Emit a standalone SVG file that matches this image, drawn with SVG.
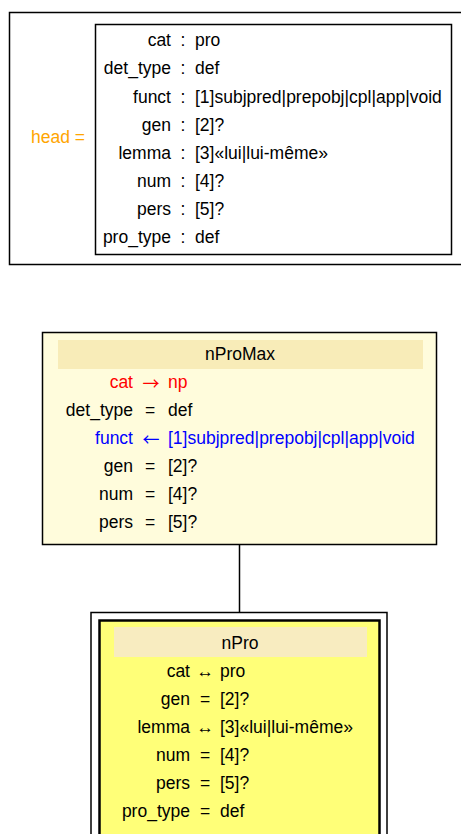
<svg xmlns="http://www.w3.org/2000/svg" width="461" height="834" viewBox="0 0 461 834">
<style>
text{font-family:"Liberation Sans",Arial,sans-serif;font-size:17.5px;fill:#000;dominant-baseline:central}
.r{text-anchor:end}
.m{text-anchor:middle}
.arr{font-family:"Noto Sans CJK SC","DejaVu Sans",sans-serif;font-size:17px}
.red{fill:#ff0000}
.blue{fill:#0000ff}
.orange{fill:#ffa500}
</style>
<rect width="461" height="834" fill="#fff"/>
<g id="head">
<rect x="9.5" y="12.5" width="460" height="252" fill="#fff" stroke="#000" stroke-width="1.5"/>
<text class="orange" x="31" y="137">head =</text>
<rect x="95.5" y="24.5" width="356" height="230" fill="#fff" stroke="#000" stroke-width="1.5"/>
<g>
<text class="r" x="171" y="40">cat</text><text class="m" x="183" y="40">:</text><text x="195" y="40">pro</text>
<text class="r" x="171" y="68">det_type</text><text class="m" x="183" y="68">:</text><text x="195" y="68">def</text>
<text class="r" x="171" y="97">funct</text><text class="m" x="183" y="97">:</text><text x="195" y="97">[1]subjpred|prepobj|cpl|app|void</text>
<text class="r" x="171" y="125">gen</text><text class="m" x="183" y="125">:</text><text x="195" y="125">[2]?</text>
<text class="r" x="171" y="153">lemma</text><text class="m" x="183" y="153">:</text><text x="195" y="153">[3]«lui|lui-même»</text>
<text class="r" x="171" y="181">num</text><text class="m" x="183" y="181">:</text><text x="195" y="181">[4]?</text>
<text class="r" x="171" y="209">pers</text><text class="m" x="183" y="209">:</text><text x="195" y="209">[5]?</text>
<text class="r" x="171" y="237">pro_type</text><text class="m" x="183" y="237">:</text><text x="195" y="237">def</text>
</g>
</g>
<g id="connectors">
<line x1="239.5" y1="545" x2="239.5" y2="612" stroke="#000" stroke-width="1.5"/>
</g>
<g id="nProMax">
<rect x="42.5" y="332.5" width="394" height="212" fill="#fffcdc" stroke="#000" stroke-width="1.5"/>
<rect x="58" y="340" width="365" height="29" fill="#f8ecb8"/>
<text class="m" x="240" y="354">nProMax</text>
<text class="r red" x="133" y="382">cat</text><text class="m red arr" x="151" y="382">→</text><text class="red" x="168" y="382">np</text>
<text class="r" x="133" y="410">det_type</text><text class="m" x="150" y="410">=</text><text x="168" y="410">def</text>
<text class="r blue" x="133" y="438">funct</text><text class="m blue arr" x="151" y="438">←</text><text class="blue" x="168" y="438">[1]subjpred|prepobj|cpl|app|void</text>
<text class="r" x="133" y="466">gen</text><text class="m" x="150" y="466">=</text><text x="168" y="466">[2]?</text>
<text class="r" x="133" y="494">num</text><text class="m" x="150" y="494">=</text><text x="168" y="494">[4]?</text>
<text class="r" x="133" y="522">pers</text><text class="m" x="150" y="522">=</text><text x="168" y="522">[5]?</text>
</g>
<g id="nPro">
<rect x="91" y="612.5" width="296" height="240" fill="#fff" stroke="#000" stroke-width="1.5"/>
<rect x="99.5" y="620.5" width="280" height="220" fill="#ffff78" stroke="#000" stroke-width="2.5"/>
<rect x="114" y="627" width="253" height="30" fill="#f8ecc0"/>
<text class="m" x="240" y="643">nPro</text>
<text class="r" x="190" y="671">cat</text><text class="m" x="205" y="671">↔</text><text x="220" y="671">pro</text>
<text class="r" x="190" y="699">gen</text><text class="m" x="205" y="699">=</text><text x="220" y="699">[2]?</text>
<text class="r" x="190" y="727">lemma</text><text class="m" x="205" y="727">↔</text><text x="220" y="727">[3]«lui|lui-même»</text>
<text class="r" x="190" y="755">num</text><text class="m" x="205" y="755">=</text><text x="220" y="755">[4]?</text>
<text class="r" x="190" y="783">pers</text><text class="m" x="205" y="783">=</text><text x="220" y="783">[5]?</text>
<text class="r" x="190" y="811">pro_type</text><text class="m" x="205" y="811">=</text><text x="220" y="811">def</text>
</g>
</svg>
